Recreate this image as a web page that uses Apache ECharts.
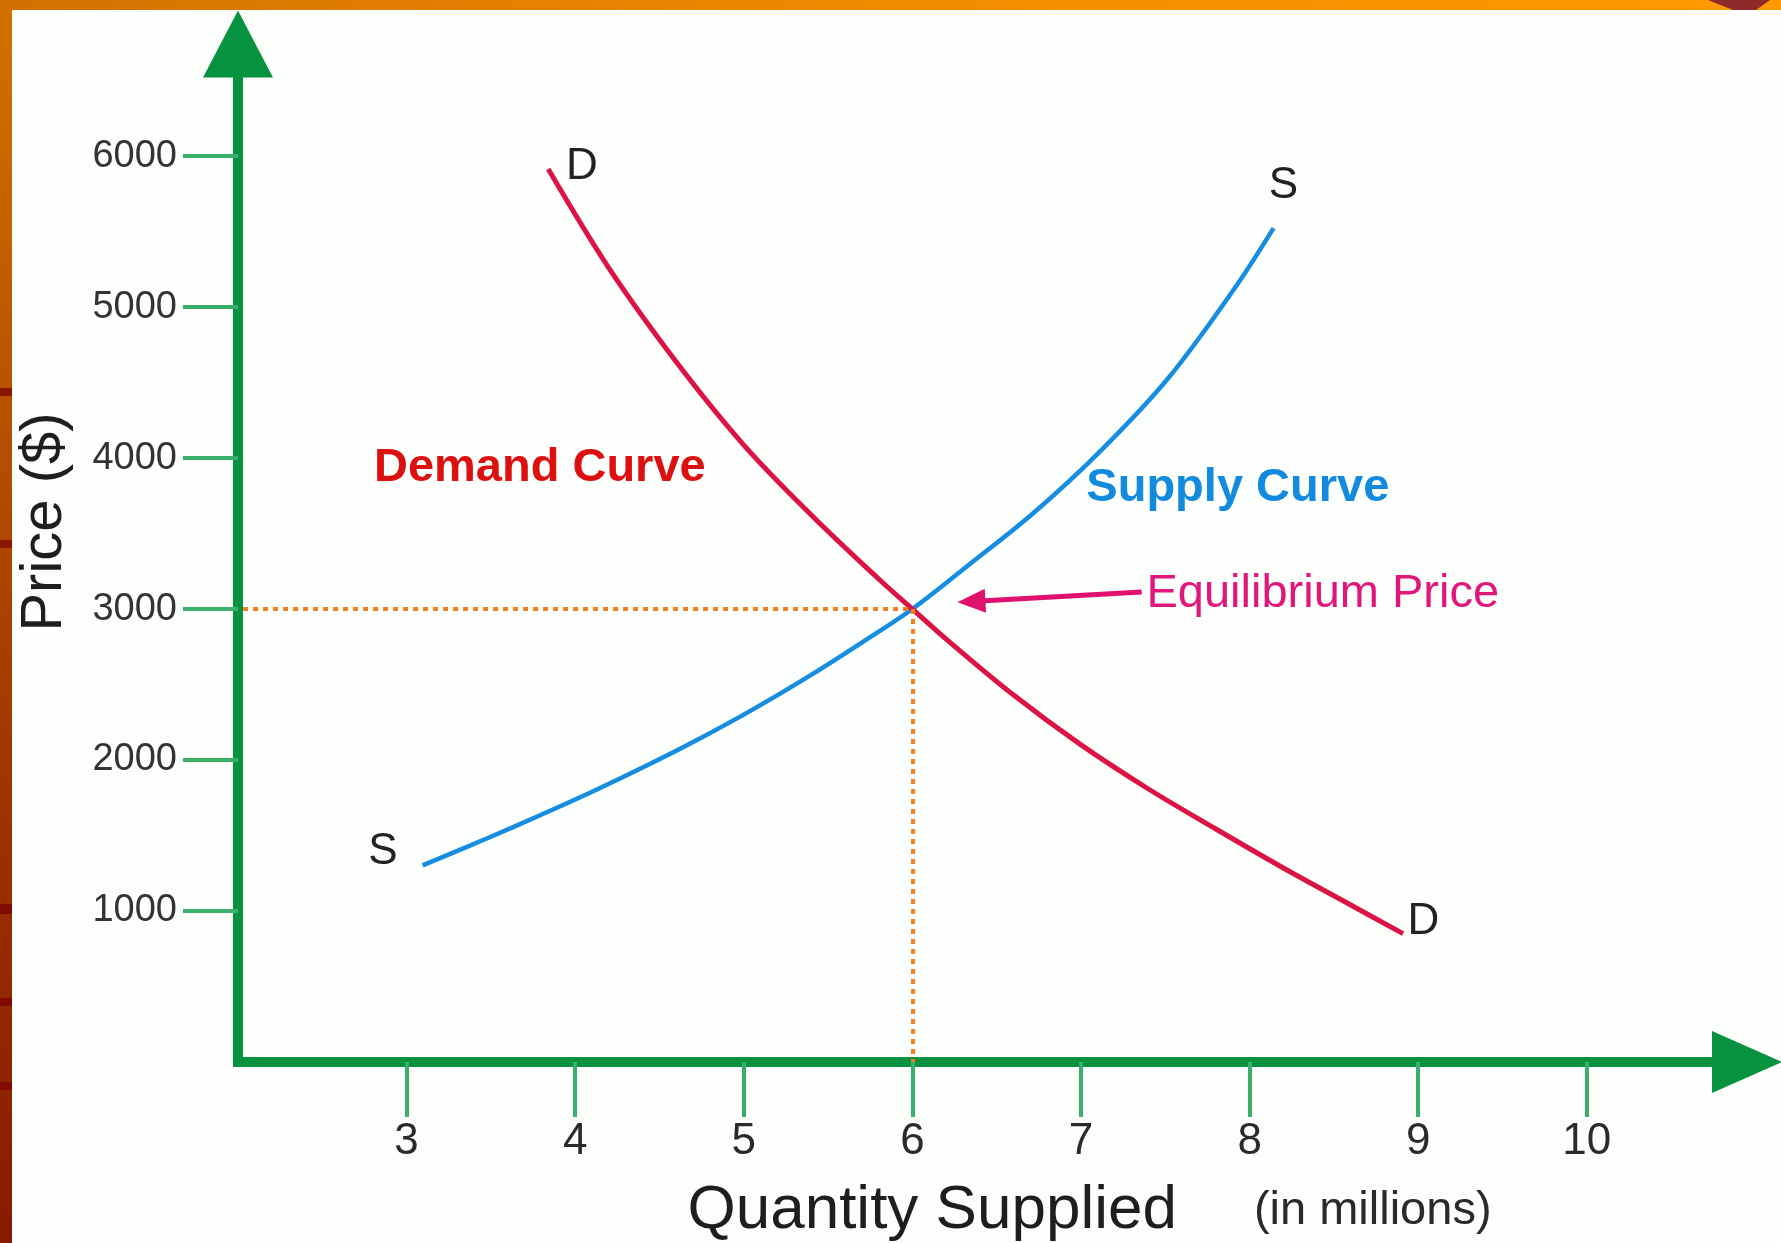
<!DOCTYPE html>
<html>
<head>
<meta charset="utf-8">
<title>Supply and Demand</title>
<script src="https://cdn.jsdelivr.net/npm/echarts@6.0.0/dist/echarts.min.js"></script>
<style>
  html, body { margin: 0; padding: 0; }
  body { width: 1781px; height: 1243px; overflow: hidden; position: relative; background: #fcfefc; }
  .left-strip { position: absolute; left: 0; top: 0; width: 12px; height: 1243px;
    background:
      linear-gradient(to bottom, transparent 0, transparent 388px, #8a1400 388px, #8a1400 396px, transparent 396px,
        transparent 540px, #8a1600 540px, #8a1600 548px, transparent 548px,
        transparent 904px, #800a00 904px, #800a00 914px, transparent 914px,
        transparent 998px, #820800 998px, #820800 1006px, transparent 1006px,
        transparent 1082px, #820800 1082px, #820800 1090px, transparent 1090px),
      linear-gradient(to bottom, #d27200 0, #c06000 250px, #b44e00 450px, #a23c00 700px, #962e00 900px, #861c00 1243px); }
  .top-strip { position: absolute; left: 0; top: 0; width: 1781px; height: 10px;
    background: linear-gradient(to right, #d07000 0, #dc7a00 300px, #f08c00 900px, #ff9a00 1781px); }
  .top-corner { position: absolute; left: 1708px; top: 0; width: 73px; height: 10px; background: #8e2a2a;
    clip-path: polygon(0 0, 62px 0, 48px 10px, 25px 10px); }
  #main { position: absolute; left: 0; top: 0; width: 1781px; height: 1243px; }
</style>
</head>
<body>
<div class="left-strip"></div>
<div class="top-strip"></div>
<div class="top-corner"></div>
<div id="main"></div>
<script>
// tick values
const priceTicks = [1000, 2000, 3000, 4000, 5000, 6000];
const quantityTicks = [3, 4, 5, 6, 7, 8, 9, 10];

// demand curve D (quantity in millions, price in $)
const demandQty = [3.84, 4.2, 4.6, 5.0, 5.4, 5.8, 6.0, 6.2, 6.6, 7.0, 7.4, 7.8, 8.2, 8.6, 8.91];
const demandPrice = [5914, 5258, 4636, 4086, 3623, 3199, 3000, 2801, 2430, 2100, 1808, 1543, 1285, 1040, 850];

// supply curve S
const supplyQty = [3.095, 3.475, 3.795, 4.11, 4.43, 4.745, 5.065, 5.385, 5.70, 6.0, 6.326, 6.718, 7.115, 7.513, 7.904, 8.142];
const supplyPrice = [1302, 1480, 1636, 1795, 1967, 2146, 2342, 2554, 2778, 3000, 3285, 3636, 4046, 4523, 5113, 5523];

// equilibrium point
const eqQty = 6;
const eqPrice = 3000;

const axisGreen = '#07923f';
const tickGreen = '#3aae6b';
const font = 'Liberation Sans, Arial, sans-serif';

// text annotations placed in data coordinates
const annotations = [
  { text: 'D', at: [4.04, 5927], size: 44, color: '#222', weight: 'normal' },
  { text: 'S', at: [8.20, 5801], size: 44, color: '#222', weight: 'normal' },
  { text: 'S', at: [2.86, 1391], size: 44, color: '#222', weight: 'normal' },
  { text: 'D', at: [9.03, 927], size: 44, color: '#222', weight: 'normal' },
  { text: 'Demand Curve', at: [3.79, 3934], size: 47, color: '#dc1010', weight: 'bold' },
  { text: 'Supply Curve', at: [7.93, 3801], size: 47, color: '#128ade', weight: 'bold' },
  { text: 'Equilibrium Price', at: [8.434, 3099], size: 47, color: '#e0167a', weight: 'normal' }
];

function pairs(xs, ys) {
  return xs.map((x, i) => [x, ys[i]]);
}

const chart = echarts.init(document.getElementById('main'));

const option = {
  backgroundColor: 'transparent',
  animation: false,
  grid: { left: 238, right: 34, top: 44, bottom: 181, outerBoundsMode: 'none' },
  xAxis: {
    type: 'value',
    min: 2,
    max: 10.95,
    splitLine: { show: false },
    axisLine: {
      onZero: false,
      symbol: ['none', 'triangle'],
      symbolSize: [62, 70],
      lineStyle: { color: axisGreen, width: 10, cap: 'square' }
    },
    axisTick: { customValues: quantityTicks, length: 55, lineStyle: { color: tickGreen, width: 4 } },
    axisLabel: { customValues: quantityTicks, margin: 58, fontSize: 44, color: '#2a2a2a', fontFamily: font },
    name: '{a|Quantity Supplied}{b|(in millions)}',
    nameLocation: 'middle',
    nameGap: 118,
    nameMoveOverlap: false,
    nameTextStyle: {
      padding: [0, 0, 0, 194],
      rich: {
        a: { fontSize: 62, color: '#1e1e1e', fontFamily: font },
        b: { fontSize: 47, color: '#2a2a2a', fontFamily: font, padding: [0, 0, 0, 77] }
      }
    }
  },
  yAxis: {
    type: 'value',
    min: 0,
    max: 6742,
    splitLine: { show: false },
    axisLine: {
      onZero: false,
      symbol: ['none', 'triangle'],
      symbolSize: [70, 67],
      lineStyle: { color: axisGreen, width: 10, cap: 'square' }
    },
    axisTick: { customValues: priceTicks, length: 55, lineStyle: { color: tickGreen, width: 4 } },
    axisLabel: {
      customValues: priceTicks,
      margin: 61,
      fontSize: 38,
      color: '#333',
      fontFamily: font,
      formatter: v => String(v)
    },
    name: 'Price ($)',
    nameLocation: 'middle',
    nameRotate: 90,
    nameGap: 164,
    nameMoveOverlap: false,
    nameTextStyle: { fontSize: 58, color: '#1e1e1e', fontFamily: font, padding: [0, 0, 0, 62] }
  },
  series: [
    {
      name: 'Demand',
      type: 'line',
      data: pairs(demandQty, demandPrice),
      smooth: 0.35,
      symbol: 'none',
      lineStyle: { color: '#dc1446', width: 5 },
      z: 4
    },
    {
      name: 'Supply',
      type: 'line',
      data: pairs(supplyQty, supplyPrice),
      smooth: 0.35,
      symbol: 'none',
      lineStyle: { color: '#168de0', width: 4.5 },
      z: 3
    },
    {
      // dotted guides to the equilibrium
      name: 'Guides',
      type: 'line',
      data: [],
      z: 2,
      markLine: {
        silent: true,
        symbol: 'none',
        animation: false,
        label: { show: false },
        lineStyle: { color: '#f2801c', width: 4, type: [5, 5], opacity: 1 },
        data: [
          [{ coord: [2.03, eqPrice] }, { coord: [eqQty, eqPrice] }],
          [{ coord: [eqQty, eqPrice] }, { coord: [eqQty, 0] }]
        ]
      }
    },
    {
      // arrow pointing at the equilibrium
      name: 'Arrow',
      type: 'line',
      data: [],
      z: 2,
      markLine: {
        silent: true,
        symbol: ['none', 'triangle'],
        symbolSize: [24, 28],
        animation: false,
        label: { show: false },
        lineStyle: { color: '#e0106e', width: 5, type: 'solid', opacity: 1 },
        data: [
          [{ coord: [7.36, 3113] }, { coord: [6.35, 3050] }]
        ]
      }
    },
    {
      name: 'Annotations',
      type: 'scatter',
      symbolSize: 1,
      itemStyle: { color: 'rgba(0,0,0,0)', opacity: 1 },
      silent: true,
      z: 5,
      data: annotations.map(a => ({
        name: a.text,
        value: a.at,
        label: { fontSize: a.size, color: a.color, fontWeight: a.weight, opacity: 1 }
      })),
      label: {
        show: true,
        position: 'inside',
        formatter: '{b}',
        fontFamily: font
      }
    }
  ]
};

chart.setOption(option);
</script>
</body>
</html>
